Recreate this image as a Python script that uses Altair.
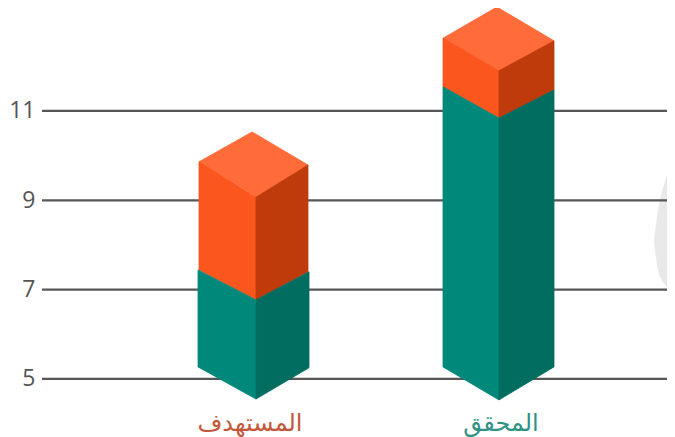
import altair as alt
import pandas as pd

tick_values = [5, 7, 9, 11]
categories = ["المستهدف", "المحقق"]
category_x = [250, 501]
category_y = [3.98, 3.98]
category_colors = ["#C4573A", "#2F9384"]

faces = [
    # fill, x positions, upper edge values, lower edge values
    ("#FF6B39", [199, 252, 256, 308], [9.86, 10.53, 10.48, 9.79], [9.86, 9.14, 9.07, 9.79]),
    ("#FA561D", [199, 256], [9.86, 9.07], [7.44, 6.77]),
    ("#C03B0B", [256, 308], [9.07, 9.79], [6.77, 7.40]),
    ("#00897A", [198, 256], [7.44, 6.77], [5.27, 4.55]),
    ("#006D60", [256, 309], [6.77, 7.40], [4.55, 5.25]),
    ("#FF6B39", [443, 497, 499, 554], [12.63, 13.33, 13.30, 12.57], [12.63, 11.93, 11.90, 12.57]),
    ("#FA561D", [443, 499], [12.63, 11.90], [11.54, 10.84]),
    ("#C03B0B", [499, 554], [11.90, 12.57], [10.84, 11.47]),
    ("#00897A", [443, 499], [11.54, 10.84], [5.27, 4.53]),
    ("#006D60", [499, 554], [10.84, 11.47], [4.53, 5.27]),
]

blob_x = [654, 656, 660, 667]
blob_top = [8.11, 8.45, 9.01, 9.57]
blob_bottom = [8.11, 7.71, 7.28, 7.06]

rows = []
for i, (fill, xs, tops, bottoms) in enumerate(faces):
    for x, t, b in zip(xs, tops, bottoms):
        rows.append({"face": i, "fill": fill, "x": x, "top": t, "bottom": b})
face_df = pd.DataFrame(rows)
blob_df = pd.DataFrame({"x": blob_x, "top": blob_top, "bottom": blob_bottom})
tick_df = pd.DataFrame({"top": tick_values})
label_df = pd.DataFrame({"name": categories, "x": category_x, "top": category_y, "c": category_colors})

x_scale = alt.Scale(domain=[42, 667], nice=False, zero=False)
y_scale = alt.Scale(domain=[3.70, 13.305], nice=False, zero=False)
x_enc = alt.X("x:Q", scale=x_scale, axis=None)
y_enc = alt.Y(
    "top:Q", scale=y_scale,
    axis=alt.Axis(
        values=tick_values, title=None, grid=False, ticks=False, domain=False,
        labelFont="Open Sans", labelFontSize=23, labelColor="#555555", labelPadding=7,
    ),
)

blob = alt.Chart(blob_df).mark_area(color="#E9E9EA", interpolate="cardinal", clip=True).encode(
    x=x_enc, y=y_enc, y2="bottom:Q"
)
rules = alt.Chart(tick_df).mark_rule(color="#565656", strokeWidth=2.2).encode(y=y_enc)
bars = alt.Chart(face_df).mark_area(interpolate="linear", strokeWidth=0.8).encode(
    x=x_enc,
    y=y_enc,
    y2="bottom:Q",
    color=alt.Color("fill:N", scale=None),
    stroke=alt.Stroke("fill:N", scale=None),
    detail="face:N",
)
labels = alt.Chart(label_df).mark_text(font="DejaVu Sans", fontSize=24, baseline="middle").encode(
    x=x_enc,
    y=y_enc,
    text="name:N",
    color=alt.Color("c:N", scale=None),
)

chart = (
    alt.layer(blob, rules, bars, labels)
    .properties(
        width=625, height=429, background="white",
        padding={"left": 34, "top": 0, "right": 0, "bottom": 0},
        autosize=alt.AutoSizeParams(type="none"),
    )
    .configure_view(stroke=None, strokeWidth=0)
)
chart.save("out.html", embed_options={"renderer": "svg", "actions": False})
